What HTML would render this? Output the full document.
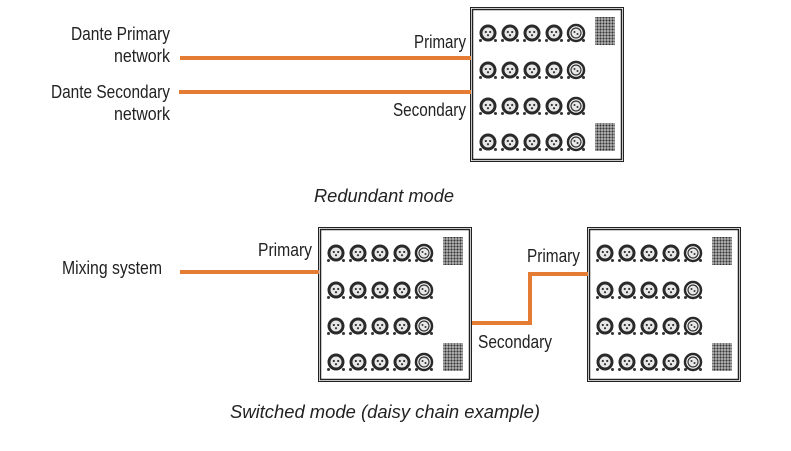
<!DOCTYPE html>
<html><head><style>
body{margin:0;background:#fff;}
svg text{font-family:"Liberation Sans",sans-serif;font-size:18px;fill:#222;}
</style></head><body>
<svg width="791" height="446" viewBox="0 0 791 446" xmlns="http://www.w3.org/2000/svg">
<defs>
<pattern id="gp" width="3" height="3" patternUnits="userSpaceOnUse">
<rect width="3" height="3" fill="#bbb"/><circle cx="1.5" cy="1.5" r="1.1" fill="#333"/>
</pattern>
<g id="c">
<circle r="8.5" fill="#2a2a2a"/><circle r="5.5" fill="#e8e8e8"/>
<circle cx="-2.2" cy="-1" r="1.1" fill="#333"/><circle cx="2.2" cy="-1" r="1.1" fill="#333"/><circle cx="0" cy="2.2" r="1.1" fill="#333"/>
<circle cx="-7.5" cy="7.5" r="1.5" fill="#333"/><circle cx="7.5" cy="7.5" r="1.5" fill="#333"/>
</g>
<g id="c2">
<circle r="8" fill="none" stroke="#2a2a2a" stroke-width="2.5"/><circle r="5" fill="#e8e8e8" stroke="#333" stroke-width="1.2"/>
<circle cx="-1.5" cy="-1" r="1" fill="#333"/><circle cx="1.5" cy="1" r="1" fill="#333"/>
<circle cx="-7.5" cy="7.5" r="1.5" fill="#333"/><circle cx="7.5" cy="7.5" r="1.5" fill="#333"/>
</g>
<g id="box">
<rect x="0.5" y="0.5" width="153" height="154" fill="#fff" stroke="#222" stroke-width="1"/>
<rect x="2.5" y="2.5" width="149" height="150" fill="none" stroke="#222" stroke-width="1.5"/>
<g>
<use href="#c" x="18" y="26"/><use href="#c" x="40" y="26"/><use href="#c" x="62" y="26"/><use href="#c" x="84" y="26"/><use href="#c2" x="106" y="26"/>
<use href="#c" x="18" y="63"/><use href="#c" x="40" y="63"/><use href="#c" x="62" y="63"/><use href="#c" x="84" y="63"/><use href="#c2" x="106" y="63"/>
<use href="#c" x="18" y="99"/><use href="#c" x="40" y="99"/><use href="#c" x="62" y="99"/><use href="#c" x="84" y="99"/><use href="#c2" x="106" y="99"/>
<use href="#c" x="18" y="135"/><use href="#c" x="40" y="135"/><use href="#c" x="62" y="135"/><use href="#c" x="84" y="135"/><use href="#c2" x="106" y="135"/>
</g>
<rect x="125" y="10" width="20" height="28" fill="url(#gp)"/>
<rect x="125" y="116" width="20" height="28" fill="url(#gp)"/>
</g>
</defs>

<use href="#box" x="470" y="7"/>
<use href="#box" x="318" y="227"/>
<use href="#box" x="587" y="227"/>

<g stroke="#e57c33" stroke-width="4" fill="none">
<line x1="180" y1="58" x2="471" y2="58"/>
<line x1="179" y1="92" x2="471" y2="92"/>
<line x1="180" y1="272" x2="319" y2="272"/>
<polyline points="472,323 530,323 530,274 588,274"/>
</g>

<text x="71" y="40" textLength="99" lengthAdjust="spacingAndGlyphs">Dante Primary</text>
<text x="114" y="62" textLength="56" lengthAdjust="spacingAndGlyphs">network</text>
<text x="51" y="98" textLength="119" lengthAdjust="spacingAndGlyphs">Dante Secondary</text>
<text x="114" y="120" textLength="56" lengthAdjust="spacingAndGlyphs">network</text>
<text x="414" y="48" textLength="52" lengthAdjust="spacingAndGlyphs">Primary</text>
<text x="393" y="116" textLength="73" lengthAdjust="spacingAndGlyphs">Secondary</text>
<text x="314" y="202" textLength="140" lengthAdjust="spacingAndGlyphs" font-style="italic">Redundant mode</text>
<text x="62" y="274" textLength="100" lengthAdjust="spacingAndGlyphs">Mixing system</text>
<text x="258" y="256" textLength="54" lengthAdjust="spacingAndGlyphs">Primary</text>
<text x="527" y="262" textLength="53" lengthAdjust="spacingAndGlyphs">Primary</text>
<text x="478" y="348" textLength="74" lengthAdjust="spacingAndGlyphs">Secondary</text>
<text x="230" y="418" textLength="310" lengthAdjust="spacingAndGlyphs" font-style="italic">Switched mode (daisy chain example)</text>
</svg>
</body></html>
